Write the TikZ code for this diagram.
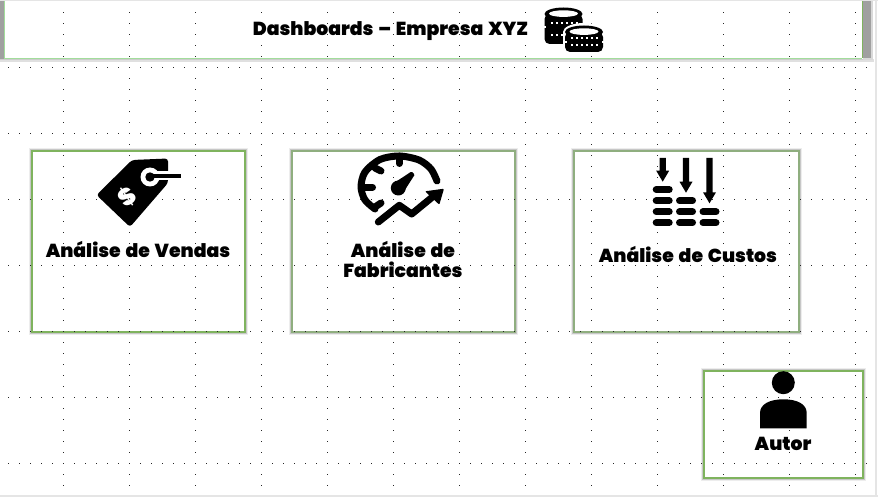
\documentclass[tikz,border=0pt]{standalone}
\usepackage{fontspec}
\setmainfont{Poppins Black}[WordSpace=1.5]
\definecolor{panelgreen}{HTML}{7FB35E}
\definecolor{panelsage}{HTML}{8FAE7F}
\definecolor{bargray}{HTML}{A0A0A0}
\tikzset{
    griddot/.style={fill=black!85},
    panel/.style={draw=panelgreen,fill=white,line width=1.3pt,inner sep=0pt,
        preaction={draw=black!7,line width=5.5pt},
        preaction={draw=black!22,line width=3.4pt}},
    label/.style={font=\fontsize{18.8}{20}\selectfont,align=center,inner sep=0pt,text=black},
    pill/.style={line width=7pt,line cap=round},
    needle/.style={line width=7pt,line cap=round,line join=round},
}
\begin{document}
\begin{tikzpicture}[x=1pt,y=-1pt]
    \useasboundingbox (0,0) rectangle (878,497);
    \fill [white] (0,0) rectangle (878,497);
    \fill [black!10] (0,0) rectangle (878,1);
    \fill [black!10] (875,0) rectangle (876.5,497);
    \fill [black!10] (0,495) rectangle (878,496.5);

    % header band
    \fill [black!12] (0,59) rectangle (874,62);
    \fill [black!20] (0,59) rectangle (872,60.5);
    \fill [bargray] (0,1) rectangle (4,59);
    \fill [black!15] (863,1) rectangle (873,60);
    \fill [bargray] (863,1) rectangle (871,58);
    \draw [panelsage!70!green!60!white,line width=1.2pt] (4.6,1) -- (4.6,58.4) -- (862.4,58.4);
    \draw [panelgreen,line width=1.2pt] (862.4,1) -- (862.4,58.4);

    \node (vendas) [panel,minimum width=213pt,minimum height=181pt] at (138.5,241.5) {};
    \node (fabricantes) [panel,draw=panelsage,minimum width=223pt,minimum height=181pt] at (403.5,241.5) {};
    \node (custos) [panel,draw=panelsage,minimum width=225pt,minimum height=181pt] at (686.5,241.5) {};
    \node (autor) [panel,minimum width=159pt,minimum height=107pt] at (783.5,424.5) {};

    % dotted grid
    \foreach \r in {67,133,...,463}{%
        \foreach \c in {8,19,...,866}{%
            \fill [griddot] (\c-.45,\r-.45) rectangle (\c+.45,\r+.45);}}
    \foreach \c in {63,129,...,855}{%
        \foreach \r in {12,23,...,485}{%
            \fill [griddot] (\c-.45,\r-.45) rectangle (\c+.45,\r+.45);}}

    \node (title) [label] at (390.5,31.5) {Dashboards – Empresa XYZ};
    \node (vendaslabel) [label] at (138,249.5) {Análise de Vendas};
    \node (fabricanteslabel) [label] at (403,259) {Análise de\\Fabricantes};
    \node (custoslabel) [label] at (688,254.5) {Análise de Custos};
    \node (autorlabel) [label] at (783,444) {Autor};

    % coins
    \foreach \cx/\cy/\ch/\ra/\rb in {563.5/14/30/9/21,584/32/20/6/13}{%
        \begin{scope}[shift={(\cx,\cy)}]
            \fill [white] (0,0) ellipse [x radius=21pt,y radius=9pt];
            \fill [white] (-21,0) rectangle (21,\ch+1.5);
            \fill [black,rounded corners=5pt] (-19,0) rectangle (19,\ch);
            \fill [black] (0,0) ellipse [x radius=19pt,y radius=6.5pt];
            \fill [white] (0,-.4) ellipse [x radius=14.5pt,y radius=3.3pt];
            \foreach \k in {-12,-7,...,13}{%
                \fill [white] (\k-1,\ra-.9) rectangle (\k+1,\ra+.9);
                \fill [white] (\k-1,\rb-.9) rectangle (\k+1,\rb+.9);}
            \fill [white] (-20,\ra+3.2) rectangle (-17.5,\ra+4.6);
            \fill [white] (17.5,\ra+3.2) rectangle (20,\ra+4.6);
        \end{scope}}

    % price tag
    \fill [black,rounded corners=3pt] (168,158.5) -- (168,183) -- (130,227) -- (96.5,195) -- (132,160) -- cycle;
    \fill [white] (150,177) circle [radius=9.5pt];
    \fill [white] (150,171.5) rectangle (181.5,180.5);
    \fill [black] (150,177) circle [radius=4.7pt];
    \draw [black,line width=3.8pt] (150,176) -- (180.5,176);
    \node (dollar) [text=white,rotate=35,inner sep=0pt,font=\fontsize{24}{24}\selectfont] at (127,197) {\$};

    % gauge
    \draw [needle] plot [smooth] coordinates {(375,209) (365,200) (361,187) (365,172) (380,159.5) (399.3,156) (419,160) (431,169) (437,181)};
    \draw [needle] (399.3,156) -- (399.3,163.5);
    \draw [needle] (375,168) -- (381,171);
    \draw [needle] (362,187.3) -- (372.5,187.3);
    \draw [needle] (375,207) -- (381,203);
    \fill [black] (398.3,188) circle [radius=7.5pt];
    \fill [black,rounded corners=1pt] (392.5,184) -- (411.5,171.5) -- (414.8,174.5) -- (403,193) -- cycle;
    \draw [white,line width=12pt] (378.3,222) -- (399.3,205.3) -- (411.7,214) -- (433.3,196.3);
    \draw [needle] (378.3,222) -- (399.3,205.3) -- (411.7,214) -- (433.3,196.3);
    \fill [black,rounded corners=1pt] (444,188.7) -- (425,191.3) -- (439.3,204.7) -- cycle;

    % cost arrows and bars
    \foreach \ax/\ay in {662.7/181.7,686/192.7,709.5/203.3}{%
        \fill [black] (\ax-3.2,158) -- (\ax+3.2,158) -- (\ax+3.2,\ay-11) -- (\ax+6.5,\ay-11) -- (\ax,\ay) -- (\ax-6.5,\ay-11) -- (\ax-3.2,\ay-11) -- cycle;}
    \foreach \bx/\by in {662.7/189.5,662.7/200.7,662.7/211.7,662.7/222.7,686/200.7,686/211.7,686/222.7,709.5/211.7,709.5/222.7}{%
        \draw [pill] (\bx-6.5,\by) -- (\bx+6.5,\by);}

    % person
    \fill [black] (783.3,382.7) circle [radius=11.5pt];
    \fill [black] (760,428.3) -- (760,413) .. controls (760,404) and (770,399.3) .. (783.3,399.3) .. controls (797,399.3) and (806.7,404) .. (806.7,413) -- (806.7,428.3) -- cycle;
\end{tikzpicture}
\end{document}
